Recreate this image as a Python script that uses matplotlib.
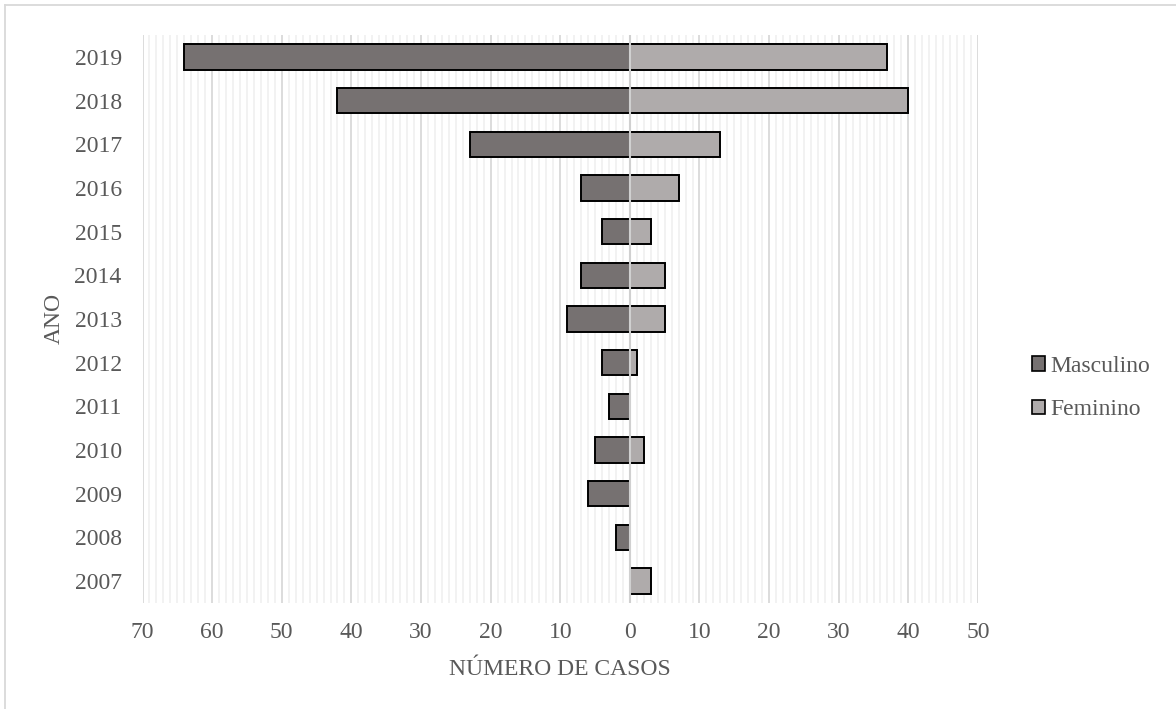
import matplotlib
matplotlib.use("Agg")
import matplotlib.pyplot as plt
from matplotlib.lines import Line2D
from matplotlib.patches import Patch
from matplotlib.ticker import FuncFormatter, MultipleLocator

# Casos por ano e sexo (pirâmide)
anos = ["2007", "2008", "2009", "2010", "2011", "2012", "2013",
        "2014", "2015", "2016", "2017", "2018", "2019"]
masculino = [0, 2, 6, 5, 3, 4, 9, 7, 4, 7, 23, 42, 64]
feminino = [3, 0, 0, 2, 0, 1, 5, 5, 3, 7, 13, 40, 37]

COR_MASC = "#767171"
COR_FEM = "#AFABAB"
COR_TXT = "#595959"
FS = 17

plt.rcParams["font.family"] = ["Liberation Serif", "DejaVu Serif"]

fig = plt.figure(figsize=(11.76, 7.09), dpi=100)
ax = fig.add_axes([0.1212, 0.1495, 0.7104, 0.8011])

y = list(range(len(anos)))
ax.barh(y, [-m for m in masculino], height=0.58, color=COR_MASC,
        edgecolor="black", linewidth=1.4, zorder=3, label="Masculino")
ax.barh(y, feminino, height=0.58, color=COR_FEM,
        edgecolor="black", linewidth=1.4, zorder=3, label="Feminino")

ax.set_xlim(-70, 50)
ax.set_ylim(-0.5, len(anos) - 0.5)
ax.xaxis.set_major_locator(MultipleLocator(10))
ax.xaxis.set_minor_locator(MultipleLocator(1))
ax.xaxis.set_major_formatter(FuncFormatter(lambda v, _: f"{abs(v):.0f}"))
ax.grid(axis="x", which="major", color="#d9d9d9", linewidth=1.3, zorder=0)
ax.grid(axis="x", which="minor", color="#f0f0f0", linewidth=1.2, zorder=0)
ax.axvline(0, color="#d0d0d0", linewidth=1.5, zorder=5)

ax.set_yticks(y)
ax.set_yticklabels(anos)
for s in ax.spines.values():
    s.set_visible(False)
ax.tick_params(axis="both", which="both", length=0, labelsize=FS,
               labelcolor=COR_TXT)
ax.tick_params(axis="x", pad=14)
ax.tick_params(axis="y", pad=15)

ax.set_xlabel("NÚMERO DE CASOS", fontsize=FS, color=COR_TXT, labelpad=11)
fig.text(54 / 1176, 1 - 318 / 709, "ANO", ha="center", va="center",
         rotation=90, fontsize=FS, color=COR_TXT)

handles = [Patch(facecolor=COR_MASC, edgecolor="black", linewidth=1.2,
                 label="Masculino"),
           Patch(facecolor=COR_FEM, edgecolor="black", linewidth=1.2,
                 label="Feminino")]
leg = fig.legend(handles=handles, loc="center left",
                 bbox_to_anchor=(1020 / 1176, 1 - 388 / 709), frameon=False,
                 fontsize=FS, handlelength=0.55, handleheight=0.55,
                 handletextpad=0.25, labelspacing=0.95, borderpad=0)
for t in leg.get_texts():
    t.set_color(COR_TXT)

# moldura do gráfico (lados esquerdo e superior)
fig.add_artist(Line2D([5 / 1176, 5 / 1176], [0, 1 - 5 / 709],
                      transform=fig.transFigure, color="#d9d9d9", lw=1.3))
fig.add_artist(Line2D([5 / 1176, 1], [1 - 5 / 709, 1 - 5 / 709],
                      transform=fig.transFigure, color="#d9d9d9", lw=1.3))

fig.savefig("out.png", dpi=100, facecolor="white")
